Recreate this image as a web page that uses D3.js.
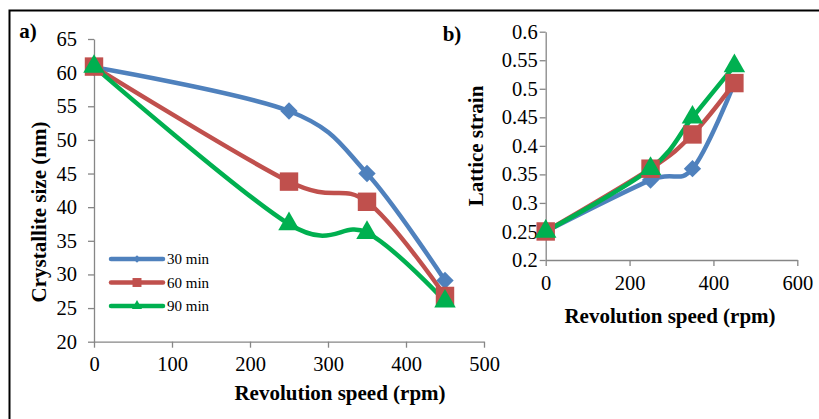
<!DOCTYPE html>
<html>
<head>
<meta charset="utf-8">
<script src="https://cdn.jsdelivr.net/npm/d3@7"></script>
<style>
  body { margin: 0; background: #fff; }
  text { font-family: 'Liberation Serif', 'Times New Roman', serif; }
</style>
</head>
<body>
<svg width="819" height="419"></svg>
<script>
// data
const speeds = [0, 250, 350, 450]
const seriesNames = ['30 min', '60 min', '90 min']
const sizes30 = [60.8, 54.3, 45, 29.1]
const sizes60 = [60.9, 43.8, 40.8, 26.8]
const sizes90 = [60.9, 37.5, 36.2, 26]
const strain30 = [0.25, 0.34, 0.36, 0.51]
const strain60 = [0.25, 0.36, 0.42, 0.51]
const strain90 = [0.25, 0.36, 0.45, 0.54]
const sizeTicks = [20, 25, 30, 35, 40, 45, 50, 55, 60, 65]
const speedTicksA = [0, 100, 200, 300, 400, 500]
const strainTicks = [0.2, 0.25, 0.3, 0.35, 0.4, 0.45, 0.5, 0.55, 0.6]
const speedTicksB = [0, 200, 400, 600]

const colors = ['#4F81BD', '#C0504D', '#00B050']
// diamond = square turned 45 degrees
const shapes = [d3.symbolSquare, d3.symbolSquare, d3.symbolTriangle]
const rotations = [45, 0, 0]
const markSize = [150, 340, 200]
const legendSize = [28, 80, 45]

let svg = d3.select('svg')

// frame
svg.append('path')
  .attr('d', 'M9.5,430 V10.5 H819')
  .attr('fill', 'none')
  .attr('stroke', '#000')
  .attr('stroke-width', 2)

const drawPanel = (opts) => {
  const { x0, x1, y0, y1, xDomain, yDomain, xTicks, yTicks, series, xFmt, yFmt, labelGap } = opts
  const g = svg.append('g')
  const x = d3.scaleLinear().domain(xDomain).range([x0, x1])
  const y = d3.scaleLinear().domain(yDomain).range([y1, y0])

  const yAxis = d3.axisLeft(y).tickValues(yTicks).tickSize(6).tickSizeOuter(0).tickFormat(yFmt)
  const xAxis = d3.axisBottom(x).tickValues(xTicks).tickSize(6).tickSizeOuter(0).tickFormat(xFmt)

  const ya = g.append('g').attr('transform', `translate(${x0},0)`).call(yAxis)
  const xa = g.append('g').attr('transform', `translate(0,${y1})`).call(xAxis)
  ;[ya, xa].forEach(a => {
    a.select('.domain').attr('stroke', '#868686').attr('stroke-width', 1.3)
    a.selectAll('.tick line').attr('stroke', '#868686').attr('stroke-width', 1.3)
    a.selectAll('.tick text')
      .attr('font-family', "'Liberation Serif', serif")
      .attr('font-size', 20.5)
      .attr('fill', '#000')
  })
  ya.selectAll('.tick text').attr('x', -labelGap)
  xa.selectAll('.tick text').attr('y', 15)

  const line = d3.line()
    .x((d, i) => x(speeds[i]))
    .y(d => y(d))
    .curve(d3.curveCatmullRom.alpha(0))

  series.forEach((vals, si) => {
    g.append('path')
      .datum(vals)
      .attr('d', line)
      .attr('fill', 'none')
      .attr('stroke', colors[si])
      .attr('stroke-width', 4.5)
      .attr('stroke-linejoin', 'round')
  })
  series.forEach((vals, si) => {
    g.selectAll(null)
      .data(vals)
      .enter()
      .append('path')
      .attr('d', d3.symbol().type(shapes[si]).size(markSize[si]))
      .attr('transform', (d, i) => `translate(${x(speeds[i])},${y(d)}) rotate(${rotations[si]})`)
      .attr('fill', colors[si])
  })
  return g
}

// panel a
drawPanel({
  x0: 94, x1: 484, y0: 39, y1: 341.7,
  xDomain: [0, 500], yDomain: [20, 65],
  xTicks: speedTicksA, yTicks: sizeTicks,
  series: [sizes30, sizes60, sizes90],
  xFmt: d3.format('d'), yFmt: d3.format('d'), labelGap: 17
})

// panel b
drawPanel({
  x0: 545.7, x1: 797.3, y0: 31.7, y1: 260,
  xDomain: [0, 600], yDomain: [0.2, 0.6],
  xTicks: speedTicksB, yTicks: strainTicks,
  series: [strain30, strain60, strain90],
  xFmt: d3.format('d'), yFmt: d => String(+d.toFixed(2)), labelGap: 8
})

// titles
const bold = (txt, x, y, rot) => {
  const t = svg.append('text')
    .attr('font-family', "'Liberation Serif', serif")
    .attr('font-weight', 'bold')
    .attr('font-size', 21)
    .attr('text-anchor', 'middle')
    .text(txt)
  if (rot) t.attr('transform', `translate(${x},${y}) rotate(-90)`)
  else t.attr('x', x).attr('y', y)
  return t
}
bold('Revolution speed (rpm)', 340, 400)
bold('Crystallite size (nm)', 46, 212, true)
bold('Revolution speed (rpm)', 670, 323)
bold('Lattice strain', 483, 146, true)
bold('a)', 28, 38)
bold('b)', 452, 41)

// legend
let legend = svg.append('g')
seriesNames.forEach((name, i) => {
  const ly = 259 + i * 23.5
  legend.append('line')
    .attr('x1', 111).attr('x2', 163)
    .attr('y1', ly).attr('y2', ly)
    .attr('stroke', colors[i])
    .attr('stroke-width', 4.5)
    .attr('stroke-linecap', 'round')
  legend.append('path')
    .attr('d', d3.symbol().type(shapes[i]).size(legendSize[i]))
    .attr('transform', `translate(137,${ly}) rotate(${rotations[i]})`)
    .attr('fill', colors[i])
  legend.append('text')
    .attr('x', 167).attr('y', ly + 5)
    .attr('font-size', 15)
    .text(name)
})
</script>
</body>
</html>
